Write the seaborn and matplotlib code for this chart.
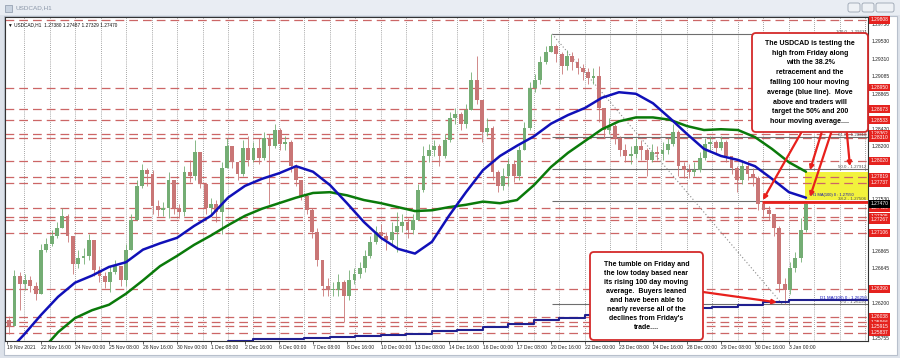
import matplotlib
matplotlib.use("Agg")
import matplotlib.pyplot as plt
import seaborn as sns
import numpy as np
import pandas as pd
from matplotlib.patches import Rectangle, FancyBboxPatch
from matplotlib.transforms import IdentityTransform

# ---------------- data ----------------
candle_hours = 5          # each drawn candle covers 5 hourly bars
first_open = 1.2600
close = [1.2592, 1.2656, 1.2645, 1.2650, 1.2643, 1.2633, 1.2689, 1.2696, 1.2706, 1.2717,
         1.2732, 1.2706, 1.2671, 1.2678, 1.2681, 1.2701, 1.2663, 1.2656, 1.2648, 1.2661,
         1.2668, 1.2650, 1.2689, 1.2727, 1.2770, 1.2790, 1.2785, 1.2744, 1.2739, 1.2742,
         1.2777, 1.2742, 1.2737, 1.2788, 1.2783, 1.2813, 1.2772, 1.2742, 1.2747, 1.2737,
         1.2793, 1.2821, 1.2800, 1.2785, 1.2818, 1.2803, 1.2818, 1.2805, 1.2831, 1.2821,
         1.2841, 1.2823, 1.2826, 1.2795, 1.2777, 1.2757, 1.2739, 1.2711, 1.2676, 1.2643,
         1.2638, 1.2638, 1.2648, 1.2630, 1.2650, 1.2658, 1.2666, 1.2681, 1.2699, 1.2711,
         1.2706, 1.2701, 1.2711, 1.2719, 1.2724, 1.2714, 1.2727, 1.2765, 1.2808, 1.2816,
         1.2821, 1.2808, 1.2828, 1.2856, 1.2861, 1.2849, 1.2866, 1.2905, 1.2879, 1.2838,
         1.2844, 1.2788, 1.2770, 1.2783, 1.2798, 1.2783, 1.2816, 1.2844, 1.2894, 1.2905,
         1.2927, 1.2940, 1.2948, 1.2938, 1.2922, 1.2935, 1.2927, 1.2920, 1.2915, 1.2907,
         1.2910, 1.2869, 1.2841, 1.2846, 1.2831, 1.2816, 1.2808, 1.2811, 1.2821, 1.2816,
         1.2803, 1.2813, 1.2811, 1.2816, 1.2823, 1.2838, 1.2795, 1.2790, 1.2788, 1.2790,
         1.2805, 1.2823, 1.2826, 1.2818, 1.2826, 1.2808, 1.2793, 1.2777, 1.2795, 1.2785,
         1.2780, 1.2747, 1.2739, 1.2734, 1.2717, 1.2645, 1.2638, 1.2666, 1.2678, 1.2714,
         1.2747]
high = [1.2605, 1.2663, 1.2661, 1.2658, 1.2656, 1.2648, 1.2696, 1.2704, 1.2714, 1.2724,
        1.2742, 1.2734, 1.2701, 1.2689, 1.2691, 1.2709, 1.2701, 1.2668, 1.2661, 1.2668,
        1.2676, 1.2668, 1.2696, 1.2734, 1.2777, 1.2798, 1.2793, 1.2790, 1.2752, 1.2750,
        1.2788, 1.2770, 1.2747, 1.2795, 1.2803, 1.2828, 1.2808, 1.2772, 1.2755, 1.2752,
        1.2800, 1.2831, 1.2818, 1.2800, 1.2828, 1.2833, 1.2826, 1.2831, 1.2838, 1.2836,
        1.2849, 1.2844, 1.2833, 1.2828, 1.2798, 1.2777, 1.2760, 1.2742, 1.2717, 1.2676,
        1.2653, 1.2648, 1.2658, 1.2650, 1.2663, 1.2666, 1.2673, 1.2689, 1.2706, 1.2719,
        1.2722, 1.2711, 1.2724, 1.2737, 1.2734, 1.2729, 1.2734, 1.2772, 1.2821, 1.2823,
        1.2828, 1.2823, 1.2836, 1.2864, 1.2869, 1.2864, 1.2874, 1.2915, 1.2935, 1.2866,
        1.2856, 1.2846, 1.2790, 1.2793, 1.2805, 1.2803, 1.2821, 1.2851, 1.2902, 1.2912,
        1.2935, 1.2948, 1.2963, 1.2950, 1.2940, 1.2943, 1.2940, 1.2933, 1.2925, 1.2920,
        1.2920, 1.2922, 1.2864, 1.2856, 1.2849, 1.2833, 1.2823, 1.2821, 1.2831, 1.2828,
        1.2818, 1.2823, 1.2821, 1.2826, 1.2831, 1.2849, 1.2841, 1.2800, 1.2798, 1.2800,
        1.2813, 1.2831, 1.2833, 1.2828, 1.2833, 1.2828, 1.2808, 1.2795, 1.2803, 1.2800,
        1.2793, 1.2783, 1.2750, 1.2744, 1.2734, 1.2719, 1.2653, 1.2673, 1.2686, 1.2729,
        1.2749]
low = [1.2582, 1.2592, 1.2612, 1.2638, 1.2635, 1.2625, 1.2635, 1.2686, 1.2694, 1.2704,
       1.2717, 1.2699, 1.2658, 1.2666, 1.2671, 1.2676, 1.2656, 1.2648, 1.2640, 1.2635,
       1.2658, 1.2643, 1.2643, 1.2691, 1.2729, 1.2767, 1.2770, 1.2734, 1.2732, 1.2732,
       1.2729, 1.2734, 1.2729, 1.2732, 1.2775, 1.2777, 1.2767, 1.2734, 1.2732, 1.2724,
       1.2709, 1.2793, 1.2793, 1.2777, 1.2783, 1.2795, 1.2800, 1.2798, 1.2803, 1.2747,
       1.2818, 1.2816, 1.2816, 1.2788, 1.2770, 1.2752, 1.2734, 1.2704, 1.2668, 1.2630,
       1.2630, 1.2630, 1.2630, 1.2597, 1.2625, 1.2645, 1.2653, 1.2661, 1.2678, 1.2696,
       1.2701, 1.2689, 1.2696, 1.2686, 1.2711, 1.2704, 1.2709, 1.2727, 1.2762, 1.2800,
       1.2808, 1.2795, 1.2805, 1.2826, 1.2849, 1.2841, 1.2844, 1.2866, 1.2874, 1.2826,
       1.2833, 1.2777, 1.2762, 1.2765, 1.2770, 1.2775, 1.2777, 1.2816, 1.2841, 1.2889,
       1.2899, 1.2925, 1.2940, 1.2927, 1.2912, 1.2917, 1.2917, 1.2912, 1.2905, 1.2899,
       1.2899, 1.2851, 1.2831, 1.2836, 1.2823, 1.2808, 1.2800, 1.2798, 1.2805, 1.2803,
       1.2783, 1.2800, 1.2803, 1.2803, 1.2811, 1.2821, 1.2783, 1.2780, 1.2780, 1.2783,
       1.2788, 1.2803, 1.2816, 1.2811, 1.2816, 1.2800, 1.2785, 1.2762, 1.2772, 1.2777,
       1.2770, 1.2739, 1.2732, 1.2727, 1.2706, 1.2635, 1.2620, 1.2633, 1.2661, 1.2673,
       1.2711]

ma_step = 16  # H1 moving averages read every 16 hourly bars
h1_ma100_start = 0
h1_ma100 = [1.2558, 1.2581, 1.2606, 1.2629, 1.2647, 1.2656, 1.2667, 1.2673,
            1.2689, 1.2697, 1.2704, 1.2719, 1.2732, 1.2755, 1.2770, 1.2779,
            1.2786, 1.2795, 1.2788, 1.2771, 1.2748, 1.2724, 1.2704, 1.2690,
            1.2684, 1.2699, 1.2732, 1.2762, 1.2790, 1.2808, 1.2821, 1.2833,
            1.2849, 1.2860, 1.2869, 1.2882, 1.2889, 1.2887, 1.2875, 1.2856,
            1.2836, 1.2817, 1.2808, 1.2803, 1.2795, 1.2779, 1.2762, 1.2755]
h1_ma200_start = 32
h1_ma200 = [1.2560, 1.2584, 1.2602, 1.2612, 1.2619, 1.2633, 1.2650, 1.2668,
            1.2681, 1.2695, 1.2707, 1.2720, 1.2732, 1.2741, 1.2748, 1.2755,
            1.2761, 1.2762, 1.2758, 1.2752, 1.2748, 1.2743, 1.2738, 1.2739,
            1.2743, 1.2746, 1.2750, 1.2748, 1.2752, 1.2771, 1.2794, 1.2812,
            1.2827, 1.2842, 1.2852, 1.2857, 1.2857, 1.2854, 1.2846, 1.2841,
            1.2842, 1.2841, 1.2832, 1.2817, 1.2800, 1.2788]
d1_ma100_start = 208
day_bars = 24
d1_ma100 = [1.2573, 1.2575, 1.2576, 1.2577, 1.2578, 1.2579, 1.2580, 1.2582, 1.2585,
            1.2587, 1.2591, 1.2595, 1.2599, 1.2602, 1.2606, 1.2609, 1.2611, 1.2614,
            1.2615, 1.2616, 1.2619, 1.2622, 1.2625]

level_prices = [1.29808, 1.28950, 1.28673, 1.28533, 1.28362, 1.28310, 1.28020, 1.27819,
                1.27737, 1.27420, 1.27305, 1.27267, 1.27106, 1.26390, 1.26038, 1.25966,
                1.25915, 1.25837]
scale_prices = [1.29750, 1.29530, 1.29310, 1.29085, 1.28865, 1.28420, 1.28200,
                1.27530, 1.26865, 1.26645, 1.26200, 1.25755]
current_price = 1.27470

fib_names = ["100.0", "61.8", "50.0", "38.2", "0.0"]
fib_prices = [1.29631, 1.28318, 1.27912, 1.27506, 1.26193]
fib_high_bar = 513
fib_low_bar = 730

x_labels = ["19 Nov 2021", "22 Nov 16:00", "24 Nov 00:00", "25 Nov 08:00", "26 Nov 16:00",
            "30 Nov 00:00", "1 Dec 08:00", "2 Dec 16:00", "6 Dec 00:00", "7 Dec 08:00",
            "8 Dec 16:00", "10 Dec 00:00", "13 Dec 08:00", "14 Dec 16:00", "16 Dec 00:00",
            "17 Dec 08:00", "20 Dec 16:00", "22 Dec 00:00", "23 Dec 08:00", "24 Dec 16:00",
            "28 Dec 00:00", "29 Dec 08:00", "30 Dec 16:00", "3 Jan 00:00"]
label_step = 32

friday_high = 1.2750
zone_top, zone_bottom, zone_start_bar = 1.27880, 1.27521, 751

text1 = ("The USDCAD is testing the\nhigh from Friday along\nwith the 38.2%\n"
         "retracement and the\nfalling 100 hour moving\naverage (blue line).  Move\n"
         "above and traders will\ntarget the 50% and 200\nhour moving average....")
text2 = ("The tumble on Friday and\nthe low today based near\nits rising 100 day moving\n"
         "average.  Buyers leaned\nand have been able to\nnearly reverse all of the\n"
         "declines from Friday's\ntrade....")

# ---------------- style ----------------
sns.set_theme(style="white")
plt.rcParams['font.family'] = ['Liberation Sans', 'DejaVu Sans']

W, H = 900, 358
fig = plt.figure(figsize=(W / 100, H / 100), dpi=100, facecolor='#dde2ea')
ident = IdentityTransform()

# window chrome (behind the axes)
fig.patches.append(Rectangle((0, H - 15), W, 15, transform=ident, fc='#e9edf3', ec='none', zorder=-5))
fig.patches.append(Rectangle((4, H - 355), 893, 339, transform=ident, fc='white', ec='#b8c0cc',
                             lw=0.8, zorder=-5))
for bx, bw in [(848, 12), (862, 12), (876, 18)]:
    fig.patches.append(FancyBboxPatch((bx, H - 12), bw, 9, boxstyle='round,pad=0,rounding_size=2',
                                      transform=ident, fc='#eef1f5', ec='#9aa4b2', lw=0.6, zorder=-4))
fig.patches.append(Rectangle((5, H - 12), 7, 7, transform=ident, fc='#c9d3e0', ec='#8a96a8', lw=0.5,
                             zorder=-4))
fig.text(16 / W, 1 - 8 / H, 'USDCAD,H1', fontsize=4.6, color='#8a96a8', va='center')

xmin, xmax = -1.9, 810.4
ymin, ymax = 1.25729, 1.29846
ax = fig.add_axes([5 / W, 1 - 341 / H, 863 / W, 324 / H])
ax.set_zorder(1)
ax.set_facecolor('white')
ax.set_xlim(xmin, xmax)
ax.set_ylim(ymin, ymax)
for s in ax.spines.values():
    s.set_color('#333333')
    s.set_linewidth(0.8)

# vertical dotted grid (daily)
for b in range(16, int(xmax) + 1, day_bars):
    ax.axvline(b, color='#555555', ls=(0, (1, 2)), lw=0.5, zorder=1)

# yellow zone
ax.add_patch(Rectangle((zone_start_bar, zone_bottom), xmax - zone_start_bar, zone_top - zone_bottom,
                       fc='#f2f23c', ec='none', zorder=1.1))

# horizontal red dashed levels
for p in level_prices:
    ax.axhline(p, color='#cc6666', ls=(0, (7, 4)), lw=0.9, zorder=1.5)

# fibonacci
ax.hlines(fib_prices, fib_high_bar, xmax, color='#6e6e6e', lw=0.8, zorder=1.6)
ax.plot([fib_high_bar, fib_low_bar], [fib_prices[0], fib_prices[-1]], ls=(0, (1, 2)),
        color='#8a8a8a', lw=0.8, zorder=1.6)
for nm, p in zip(fib_names, fib_prices):
    ax.text(xmax - 1.5, p, f"{nm} - {p:.5f}", ha='right', va='bottom', fontsize=3.2,
            color='#505050', zorder=1.7)

# candles
n = len(close)
opens = [first_open] + close[:-1]
df = pd.DataFrame({'bar': np.arange(n) * candle_hours + (candle_hours - 1) / 2,
                   'open': opens, 'close': close, 'high': high, 'low': low})
up = df['close'] >= df['open']
cols = np.where(up, '#74ad74', '#c97676')
lo = df[['low', 'open', 'close']].min(axis=1)
hi = df[['high', 'open', 'close']].max(axis=1)
ax.vlines(df['bar'], lo, hi, colors=cols, lw=0.6, zorder=2)
body = (df['close'] - df['open']).abs().clip(lower=0.00005)
ax.bar(df['bar'], body, bottom=df[['open', 'close']].min(axis=1), width=3.6,
       color=cols, linewidth=0, zorder=2.1)

# moving averages
ma100_bars = h1_ma100_start + np.arange(len(h1_ma100)) * ma_step
ma200_bars = h1_ma200_start + np.arange(len(h1_ma200)) * ma_step
sns.lineplot(x=ma200_bars, y=h1_ma200, ax=ax, color='#0a7a0a', lw=1.8, estimator=None,
             sort=False, zorder=3)
sns.lineplot(x=ma100_bars, y=h1_ma100, ax=ax, color='#1010b8', lw=1.8, estimator=None,
             sort=False, zorder=3.1)
d1_bars = list(d1_ma100_start + np.arange(len(d1_ma100)) * day_bars) + [xmax]
d1_vals = d1_ma100 + [d1_ma100[-1]]
ax.step(d1_bars, d1_vals, where='post', color='#202090', lw=1.5, zorder=3)
ax.text(757, h1_ma100[-1] + 0.00006, f"H1 MA(100) 0 : {h1_ma100[-1]:.5f}", fontsize=2.9,
        color='#1010b8', va='bottom', ha='left', zorder=3.2)
ax.text(xmax - 1.5, d1_ma100[-1], f"D1 MA(100) 0 : {d1_ma100[-1]:.5f}", fontsize=3.2,
        color='#1010b8', va='bottom', ha='right', zorder=3.2)

# Friday high line
ax.hlines(friday_high, 710.6, xmax, color='#e8201c', lw=2.0, zorder=4)

# right price scale
yt = ax.get_yaxis_transform()
for p in scale_prices:
    ax.text(1.004, p, f"{p:.5f}", transform=yt, fontsize=3.6, color='#222222',
            va='center', ha='left', clip_on=False)
for p in level_prices:
    ax.text(1.003, p, f"{p:.5f}", transform=yt, fontsize=3.5, color='white', va='center',
            ha='left', clip_on=False,
            bbox=dict(boxstyle='square,pad=0.3', fc='#e5221e', ec='none'))
ax.text(1.003, current_price, f"{current_price:.5f}", transform=yt, fontsize=3.5, color='white',
        va='center', ha='left', clip_on=False,
        bbox=dict(boxstyle='square,pad=0.3', fc='black', ec='none'))
ax.set_yticks([])

# x axis
ax.set_xticks(np.arange(len(x_labels)) * label_step)
ax.set_xticklabels(x_labels, ha='left')
ax.tick_params(axis='x', length=2, width=0.5, pad=1, labelsize=3.6, colors='#222222',
               direction='out', bottom=True)
ax.set_xlabel('')
ax.set_ylabel('')

# header
ax.text(0.004, 0.985, '\u25bc USDCAD,H1  1.27380 1.27487 1.27329 1.27470', transform=ax.transAxes,
        fontsize=3.4, va='top', ha='left', color='#111111')

# annotation boxes
for (bx, by, bw, bh), txt, ls in [((752, 33, 116, 99), text1, 1.55), ((590, 252, 113, 88), text2, 1.38)]:
    fig.patches.append(FancyBboxPatch((bx, H - by - bh), bw, bh,
                                      boxstyle='round,pad=0,rounding_size=4', transform=ident,
                                      fc='white', ec='#d42a2a', lw=1.3, zorder=10))
    fig.text((bx + bw / 2) / W, 1 - (by + bh / 2) / H, txt, ha='center', va='center',
             fontsize=5.0, weight='bold', linespacing=ls, color='black', zorder=11)

# arrows
arrows = [((758.6, 1.28639), (711.5, 1.2752)),
          ((772.7, 1.28639), (755.8, 1.2790)),
          ((782.1, 1.28639), (755.8, 1.2756)),
          ((788.7, 1.28639), (793.4, 1.2795)),
          ((655.0, 1.26352), (724.7, 1.2622))]
for (x0, y0), (x1, y1) in arrows:
    ax.annotate('', xy=(x1, y1), xytext=(x0, y0),
                arrowprops=dict(arrowstyle='-|>', color='#e8201c', lw=1.6, mutation_scale=6,
                                shrinkA=0, shrinkB=0), zorder=12, annotation_clip=False)

fig.savefig('out.png', dpi=100, facecolor=fig.get_facecolor())
